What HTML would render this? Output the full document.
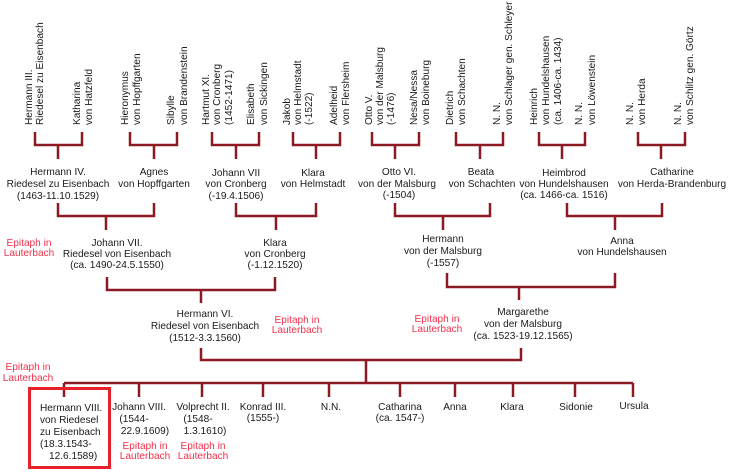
<!DOCTYPE html>
<html><head><meta charset="utf-8"><style>
html,body{margin:0;padding:0;background:#fff;}
svg{display:block;font-family:"Liberation Sans",Arial,sans-serif;font-size:10.1px;}
.t{fill:#1a1a1a;}
.r{fill:#f0304a;}
.l{stroke:#8b1a24;stroke-width:2.5;fill:none;}
</style></head><body>
<svg width="730" height="475" viewBox="0 0 730 475">
<g class="t" transform="translate(0,125)">
<g transform="rotate(-90)">
<text x="0" y="32">Hermann III.</text><text x="0" y="43">Riedesel zu Eisenbach</text>
<text x="0" y="80">Katharina</text><text x="0" y="92">von Hatzfeld</text>
<text x="0" y="128">Hieronymus</text><text x="0" y="140">von Hopffgarten</text>
<text x="0" y="174">Sibylle</text><text x="0" y="187">von Brandenstein</text>
<text x="0" y="209">Hartmut XI.</text><text x="0" y="220">von Cronberg</text><text x="0" y="232">(1452-1471)</text>
<text x="0" y="254">Elisabeth</text><text x="0" y="267">von Sickingen</text>
<text x="0" y="290">Jakob</text><text x="0" y="301">von Helmstadt</text><text x="0" y="312">(-1522)</text>
<text x="0" y="337">Adelheid</text><text x="0" y="349">von Flersheim</text>
<text x="0" y="372">Otto V.</text><text x="0" y="383">von der Malsburg</text><text x="0" y="394">(-1476)</text>
<text x="0" y="417">Nesa/Nessa</text><text x="0" y="429">von Boineburg</text>
<text x="0" y="453">Dietrich</text><text x="0" y="465">von Schachten</text>
<text x="0" y="500">N. N.</text><text x="0" y="512">von Schlager gen. Schleyer</text>
<text x="0" y="537">Heinrich</text><text x="0" y="549">von Hundelshausen</text><text x="0" y="561">(ca. 1406-ca. 1434)</text>
<text x="0" y="582">N. N.</text><text x="0" y="595">von Löwenstein</text>
<text x="0" y="633">N. N.</text><text x="0" y="645">von Herda</text>
<text x="0" y="681">N. N.</text><text x="0" y="693">von Schlitz gen. Görtz</text>
</g></g>
<g class="l">
<path d="M35 132V145H82V132M58 145V159"/>
<path d="M130 132V145H177V132M154 145V159"/>
<path d="M212 132V145H259V132M236 145V159"/>
<path d="M293 132V145H340V132M316 145V159"/>
<path d="M372 132V145H419V132M395 145V159"/>
<path d="M456 132V145H503V132M480 145V159"/>
<path d="M539 132V145H585V132M562 145V159"/>
<path d="M638 132V145H685V132M661 145V159"/>
<path d="M58 203V216H154V203M106 216V230"/>
<path d="M236 203V216H316V203M276 216V230"/>
<path d="M395 203V216H490V203M443 216V230"/>
<path d="M567 203V216H662V203M615 216V230"/>
<path d="M107 277V290H275V277M201 290V303"/>
<path d="M447 273V287H615V273M519 287V300"/>
<path d="M201 348V360H366V383M521 348V360H366"/>
<path d="M64 383H633M64 383V397M139 383V397M202 383V397M263 383V397M329 383V397M400 383V397M455 383V397M513 383V397M575 383V397M633 383V397"/>
</g>
<g class="t" text-anchor="middle">
<text x="58" y="175">Hermann IV.</text><text x="58" y="187">Riedesel zu Eisenbach</text><text x="58" y="199">(1463-11.10.1529)</text>
<text x="154" y="175">Agnes</text><text x="154" y="187">von Hopffgarten</text>
<text x="236" y="176">Johann VII</text><text x="236" y="187">von Cronberg</text><text x="236" y="199">(-19.4.1506)</text>
<text x="313" y="176">Klara</text><text x="313" y="187">von Helmstadt</text>
<text x="399" y="175">Otto VI.</text><text x="397" y="187">von der Malsburg</text><text x="399" y="198">(-1504)</text>
<text x="481" y="175">Beata</text><text x="482" y="187">von Schachten</text>
<text x="564" y="176">Heimbrod</text><text x="564" y="187">von Hundelshausen</text><text x="564" y="198">(ca. 1466-ca. 1516)</text>
<text x="672" y="175">Catharine</text><text x="672" y="187">von Herda-Brandenburg</text>
<text x="117" y="246">Johann VII.</text><text x="117" y="257">Riedesel von Eisenbach</text><text x="117" y="268">(ca. 1490-24.5.1550)</text>
<text x="275" y="246">Klara</text><text x="275" y="257">von Cronberg</text><text x="275" y="268">(-1.12.1520)</text>
<text x="443" y="242">Hermann</text><text x="443" y="254">von der Malsburg</text><text x="443" y="266">(-1557)</text>
<text x="622" y="244">Anna</text><text x="622" y="255">von Hundelshausen</text>
<text x="205" y="317">Hermann VI.</text><text x="205" y="329">Riedesel von Eisenbach</text><text x="205" y="341">(1512-3.3.1560)</text>
<text x="523" y="315">Margarethe</text><text x="523" y="327">von der Malsburg</text><text x="523" y="339">(ca. 1523-19.12.1565)</text>
<text x="139" y="410">Johann VIII.</text><text x="134" y="422">(1544-</text><text x="145" y="434">22.9.1609)</text>
<text x="203" y="410">Volprecht II.</text><text x="198" y="422">(1548-</text><text x="205" y="434">1.3.1610)</text>
<text x="263" y="410">Konrad III.</text><text x="263" y="421">(1555-)</text>
<text x="331" y="410">N.N.</text>
<text x="400" y="410">Catharina</text><text x="400" y="421">(ca. 1547-)</text>
<text x="455" y="410">Anna</text>
<text x="512" y="410">Klara</text>
<text x="576" y="410">Sidonie</text>
<text x="634" y="409">Ursula</text>
</g>
<g class="t">
<text x="40" y="411">Hermann VIII.</text><text x="40" y="423">von Riedesel</text><text x="40" y="435">zu Eisenbach</text><text x="40" y="447">(18.3.1543-</text><text x="49" y="459">12.6.1589)</text>
</g>
<rect x="29.5" y="388.5" width="80" height="79" fill="none" stroke="#e8202a" stroke-width="3"/>
<g class="r" text-anchor="middle">
<text x="29" y="246">Epitaph in</text><text x="29" y="256">Lauterbach</text>
<text x="297" y="323">Epitaph in</text><text x="297" y="333">Lauterbach</text>
<text x="437" y="322">Epitaph in</text><text x="437" y="332">Lauterbach</text>
<text x="28" y="370">Epitaph in</text><text x="28" y="381">Lauterbach</text>
<text x="145" y="449">Epitaph in</text><text x="145" y="459">Lauterbach</text>
<text x="203" y="449">Epitaph in</text><text x="203" y="459">Lauterbach</text>
</g>
</svg>
</body></html>
